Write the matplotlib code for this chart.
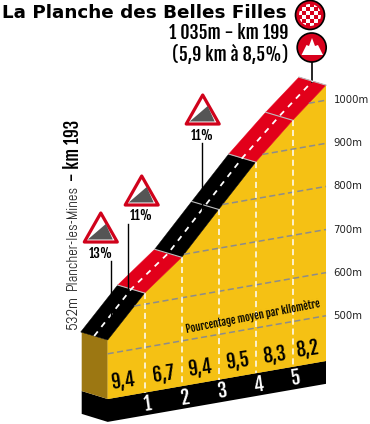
import numpy as np
import matplotlib
matplotlib.use('Agg')
import matplotlib.pyplot as plt
from matplotlib.colors import LinearSegmentedColormap
from matplotlib.patches import Polygon, Circle, Rectangle

# Profil de la montee
km = [0, 1, 2, 3, 4, 5, 5.9]
altitudes = [532, 626, 694, 790, 885, 967, 1035]
couleurs_route = ['black', '#E2001A', 'black', 'black', '#E2001A', '#E2001A']
pourcentages = ['9,4', '6,7', '9,4', '9,5', '8,3', '8,2']
km_pourcent = [0.4, 1.5, 2.5, 3.5, 4.5, 5.4]
km_labels = ['1', '2', '3', '4', '5']
grille_alt = [500, 600, 700, 800, 900, 1000]
panneaux = ['13%', '11%', '11%']
panneaux_km = [0.08, 0.55, 2.55]

BASE = 395
SOCLE = 342
GRAS = ['Fjalla One', 'Liberation Sans']
FIN = ['Abel', 'Liberation Sans']


def proj(k, alt):
    # vue oblique: km et altitude vers pixels de l'image
    return 107.7 + 37.0 * k, 340 - 6.45 * k - (alt - 532) * 0.431


fig = plt.figure(figsize=(3.7, 4.24), dpi=100)
ax = fig.add_axes([0, 0, 1, 1])

# socle noir et face laterale
pts_socle = [proj(0, BASE), proj(5.9, BASE), proj(5.9, SOCLE), proj(0, SOCLE)]
x0, y0 = proj(0, SOCLE)
x1, y1 = proj(0, BASE)
ax.add_patch(Polygon(pts_socle + [(x0 - 26, y0 - 8), (x1 - 26, y1 - 8)], color='black', lw=0))
xs, ys = proj(0, altitudes[0])
ax.add_patch(Polygon([(xs - 26, ys - 8), (xs, ys), (x1, y1), (x1 - 26, y1 - 8)], color='#9C7712', lw=0))

# face jaune, avec un leger grain decoratif
profil = [proj(k, a) for k, a in zip(km, altitudes)]
face = Polygon(profil + [proj(5.9, BASE), proj(0, BASE)], color='#F5C114', lw=0)
ax.add_patch(face)
gx, gy = np.meshgrid(np.arange(100, 330), np.arange(80, 405))
grain = np.sin(gx / 5.3 + gy / 9.1) * np.sin(gy / 4.7 - gx / 11.3) + 0.5 * np.sin(gx / 2.9) * np.sin(gy / 3.3)
cmap = LinearSegmentedColormap.from_list('sol', ['#E9AE0C', '#F5C114', '#F9CC20'])
im = ax.imshow(grain, extent=(100, 330, 405, 80), cmap=cmap, aspect='auto', interpolation='bilinear')
im.set_clip_path(face)

ax.set_xlim(0, 370)
ax.set_ylim(424, 0)
ax.axis('off')

# grille d'altitude
for alt in grille_alt:
    k = np.interp(alt, altitudes, km)
    a, b = proj(k, alt), proj(5.9, alt)
    ax.plot([a[0], b[0]], [a[1], b[1]], color='#8C8C8C', lw=1.1, dashes=(4, 2.2))
    ax.text(333.5, b[1], '%dm' % alt, fontsize=7.3, family='DejaVu Sans', color='#222222', va='center', ha='left')

# reperes des kilometres
for k, a in zip(km[1:-1], altitudes[1:-1]):
    p, q = proj(k, a), proj(k, BASE)
    ax.plot([p[0], q[0]], [p[1], q[1]], color='white', lw=1.1, dashes=(4, 2.5))

# route
for i in range(len(couleurs_route)):
    p, q = profil[i], profil[i + 1]
    ax.add_patch(Polygon([p, q, (q[0] - 27, q[1] - 8), (p[0] - 27, p[1] - 8)],
                         color=couleurs_route[i], lw=0.3))
for p in profil[1:]:
    ax.plot([p[0], p[0] - 27], [p[1], p[1] - 8], color='#BDBDBD', lw=0.8)
centre_x = [p[0] - 13.5 for p in profil]
centre_y = [p[1] - 4 for p in profil]
ax.plot(centre_x, centre_y, color='white', lw=1.3, dashes=(3.2, 3.2))

# pourcentages et numeros de km
for k, t in zip(km_pourcent, pourcentages):
    x, y = proj(k, 430)
    ax.text(x, y, t, family=GRAS, fontsize=13.5, rotation=8, ha='center', va='center', color='black')
for k, t in zip(km[1:-1], km_labels):
    x, y = proj(k + 0.08, 367)
    ax.text(x, y, t, family=GRAS, fontsize=13.5, rotation=8, ha='center', va='center', color='white')
ax.text(253, 316, 'Pourcentage moyen par kilomètre', family=GRAS, fontsize=7.5, rotation=11,
        ha='center', va='center', color='black')


# panneaux de pente
def panneau(cx, base, texte, x_trait, y_trait):
    ax.add_patch(Polygon([(cx, base - 29), (cx + 16.5, base), (cx - 16.5, base)], closed=True,
                         facecolor='white', edgecolor='#D0021B', lw=2.3, joinstyle='round'))
    ax.add_patch(Polygon([(cx - 13, base - 2.5), (cx + 5, base - 18), (cx + 12, base - 2.5)],
                         color='#555555', lw=0))
    ax.text(cx, base + 11, texte, family=GRAS, fontsize=9.5, ha='center', va='center', color='black')
    ax.plot([x_trait, x_trait], [base + 19, y_trait], color='black', lw=1)


sx = []
for k, a in zip(panneaux_km, np.interp(panneaux_km, km, altitudes)):
    sx.append(proj(k, a))
panneau(100.8, 242, panneaux[0], 110.7, sx[0][1] - 8)
panneau(141.7, 205, panneaux[1], 128, sx[1][1] - 16)
panneau(202.7, 124, panneaux[2], 201.7, sx[2][1] - 7)

# titre
ax.text(2, 13, 'La Planche des Belles Filles', family='DejaVu Sans', weight='bold', fontsize=13.25,
        ha='left', va='center', color='black')
ax.text(288, 33, '1 035m - km 199', family=GRAS, fontsize=13, ha='right', va='center', color='black')
ax.text(288, 55, '(5,9 km à 8,5%)', family=GRAS, fontsize=13, ha='right', va='center', color='black')

# texte vertical au depart
ax.text(73, 329, '532m', family=FIN, fontsize=11, rotation=90, ha='center', va='bottom', color='#222222')
ax.text(73, 290, 'Plancher-les-Mines', family=FIN, fontsize=10.5, rotation=90, ha='center', va='bottom',
        color='#222222')
ax.text(73, 181, '- km 193', family=GRAS, fontsize=12.5, rotation=90, ha='center', va='bottom', color='black')

# pastilles sommet
ax.plot([311.7, 311.7], [60, 82], color='black', lw=1.2, zorder=1)
c1 = Circle((310, 15), 14.5, facecolor='#D8001C', edgecolor='black', lw=1.2)
ax.add_patch(c1)
clip = Circle((310, 15), 11, transform=ax.transData)
for i in range(-3, 3):
    for j in range(-3, 3):
        if (i + j) % 2 == 0:
            r = Rectangle((310 + i * 4, 15 + j * 4), 4, 4, color='white', lw=0)
            ax.add_patch(r)
            r.set_clip_path(clip)
c2 = Circle((311.7, 47.5), 14.5, facecolor='#D8001C', edgecolor='black', lw=1.2)
ax.add_patch(c2)
ax.add_patch(Polygon([(301.5, 55), (306.5, 45), (309, 46), (312, 38), (315, 46), (318, 45), (323, 55)],
                     color='white', lw=0))

plt.savefig('out.png', dpi=100)
